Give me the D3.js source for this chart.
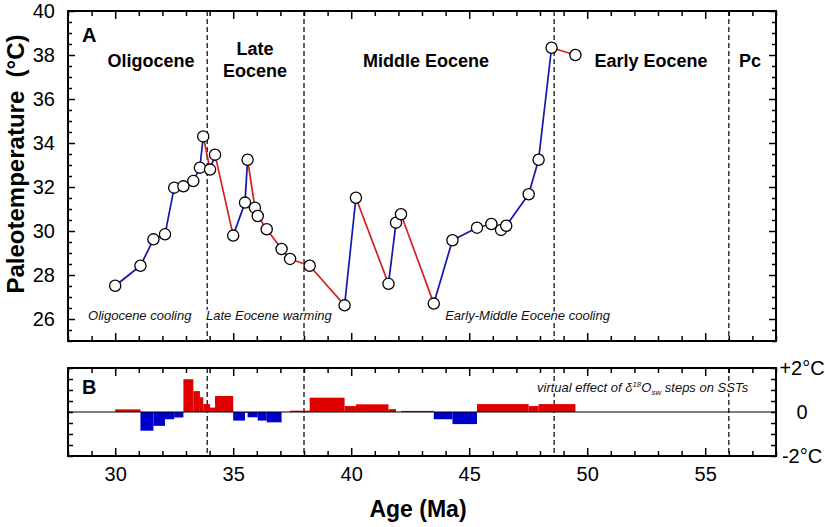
<!DOCTYPE html>
<html><head><meta charset="utf-8">
<script src="https://cdn.jsdelivr.net/npm/d3@7"></script>
<style>
html,body{margin:0;padding:0;background:#fff;}
svg{display:block;font-family:"Liberation Sans",Arial,Helvetica,sans-serif;}
</style></head>
<body><svg id="c" width="825" height="527"></svg>
<script>
// ---- data ----
const ages  = [30.0,31.07,31.62,32.11,32.50,32.89,33.31,33.59,33.73,34.02,34.23,35.0,35.5,35.61,35.92,36.04,36.42,37.05,37.41,38.24,39.72,40.20,41.58,41.90,42.11,43.50,44.29,45.33,45.94,46.35,46.57,47.52,47.94,48.49,49.50];
const temps = [27.51,28.42,29.62,29.85,31.97,32.03,32.27,32.88,34.30,32.79,33.47,29.79,31.29,33.24,31.06,30.68,30.08,29.18,28.73,28.42,26.62,31.51,27.60,30.38,30.76,26.70,29.58,30.15,30.32,30.05,30.24,31.67,33.24,38.33,38.00];
const stepEdges  = [30.0,31.07,31.62,32.11,32.50,32.89,33.31,33.59,33.73,34.02,34.23,35.0,35.5,35.61,36.04,36.42,37.05,37.41,38.24,39.72,40.20,41.58,41.90,42.11,43.50,44.29,45.33,47.52,47.94,49.50];
const stepValues = [0.12,-0.85,-0.63,-0.33,-0.25,1.49,0.95,0.67,0.36,0.20,0.73,-0.39,-0.04,-0.24,-0.39,-0.47,0,0.06,0.65,0.27,0.35,0.13,0,0.05,-0.33,-0.55,0.36,0.27,0.36];
const boundaries = [33.9,38.0,48.6,56.0];
const periodNames = ["Oligocene",["Late","Eocene"],"Middle Eocene","Early Eocene","Pc"];
const periodAges  = [31.52,35.92,43.17,52.7,56.9];
const trendNames = ["Oligocene cooling","Late Eocene warming","Early-Middle Eocene cooling"];
const trendAges  = [28.85,33.85,43.98];
const xMajor = [30,35,40,45,50,55];
const yMajorA = [26,28,30,32,34,36,38,40];
const yLabelsB = ["-2°C","0","+2°C"];
const yValuesB = [-2,0,2];

// ---- layout ----
const L=68,R=776,TA=11,BA=341,TB=368,BB=456;
const svg=d3.select("#c");
const x=d3.scaleLinear().domain([28,58]).range([L,R]);
const yA=d3.scaleLinear().domain([25,40]).range([BA,TA]);
const yB=d3.scaleLinear().domain([-2,2]).range([BB,TB]);
const RED="#d42020", BLUE="#1515b0", BRED="#e00000", BBLUE="#0000cc";

function styleAxis(g){g.select(".domain").remove();g.selectAll("line").attr("stroke","#000").attr("stroke-width",1.5);g.selectAll("text").attr("font-size",20).attr("fill","#000").attr("font-family","'Liberation Sans',Arial,sans-serif");}
const xMinor=d3.range(28,59,1).filter(v=>v%5!==0);

function frameTicks(top,bottom,yScale,yMaj,yMin,yMajLen,yMinLen){
  svg.append("g").attr("transform",`translate(0,${bottom})`).call(d3.axisBottom(x).tickValues(xMajor).tickSize(-8).tickFormat("")).call(styleAxis);
  svg.append("g").attr("transform",`translate(0,${bottom})`).call(d3.axisBottom(x).tickValues(xMinor).tickSize(-5).tickFormat("")).call(styleAxis);
  svg.append("g").attr("transform",`translate(0,${top})`).call(d3.axisTop(x).tickValues(xMajor).tickSize(-8).tickFormat("")).call(styleAxis);
  svg.append("g").attr("transform",`translate(0,${top})`).call(d3.axisTop(x).tickValues(xMinor).tickSize(-5).tickFormat("")).call(styleAxis);
  svg.append("g").attr("transform",`translate(${L},0)`).call(d3.axisLeft(yScale).tickValues(yMaj).tickSize(-yMajLen).tickFormat("")).call(styleAxis);
  svg.append("g").attr("transform",`translate(${L},0)`).call(d3.axisLeft(yScale).tickValues(yMin).tickSize(-yMinLen).tickFormat("")).call(styleAxis);
  svg.append("g").attr("transform",`translate(${R},0)`).call(d3.axisRight(yScale).tickValues(yMaj).tickSize(-yMajLen).tickFormat("")).call(styleAxis);
  svg.append("g").attr("transform",`translate(${R},0)`).call(d3.axisRight(yScale).tickValues(yMin).tickSize(-yMinLen).tickFormat("")).call(styleAxis);
}

// ---- panel A ----
svg.append("g").selectAll("line").data(boundaries).join("line")
  .attr("x1",d=>x(d)).attr("x2",d=>x(d)).attr("y1",TA).attr("y2",BA)
  .attr("stroke","#222").attr("stroke-width",1.4).attr("stroke-dasharray","5,3");
svg.append("g").selectAll("line").data(boundaries).join("line")
  .attr("x1",d=>x(d)).attr("x2",d=>x(d)).attr("y1",TB).attr("y2",BB)
  .attr("stroke","#222").attr("stroke-width",1.4).attr("stroke-dasharray","5,3");

frameTicks(TA,BA,yA,yMajorA,d3.range(25,40.01,0.5).filter(v=>v%2!==0),7,4);
svg.append("g").attr("transform",`translate(${L},0)`).call(d3.axisLeft(yA).tickValues(yMajorA).tickSize(0).tickPadding(13).tickFormat(d3.format("d"))).call(styleAxis);

const segs=d3.range(ages.length-1).map(i=>({x0:ages[i],y0:temps[i],x1:ages[i+1],y1:temps[i+1]}));
svg.append("g").selectAll("line").data(segs).join("line")
  .attr("x1",d=>x(d.x0)).attr("y1",d=>yA(d.y0)).attr("x2",d=>x(d.x1)).attr("y2",d=>yA(d.y1))
  .attr("stroke",d=>d.y1>=d.y0?BLUE:RED).attr("stroke-width",1.7);
svg.append("g").selectAll("circle").data(ages).join("circle")
  .attr("cx",d=>x(d)).attr("cy",(d,i)=>yA(temps[i])).attr("r",5.6)
  .attr("fill","#fff").attr("stroke","#000").attr("stroke-width",1.3);

svg.append("rect").attr("x",L).attr("y",TA).attr("width",R-L).attr("height",BA-TA).attr("fill","none").attr("stroke","#000").attr("stroke-width",2);

const pg=svg.append("g").attr("font-weight","bold").attr("font-size",18).attr("text-anchor","middle");
periodNames.forEach((n,i)=>{
  if(Array.isArray(n)){
    pg.append("text").attr("x",x(periodAges[i])).attr("y",55).text(n[0]);
    pg.append("text").attr("x",x(periodAges[i])).attr("y",77).text(n[1]);
  } else pg.append("text").attr("x",x(periodAges[i])).attr("y",67).text(n);
});
svg.append("g").selectAll("text").data(trendNames).join("text")
  .attr("x",(d,i)=>x(trendAges[i])).attr("y",320).attr("font-size",13).attr("font-style","italic")
  .attr("stroke","#fff").attr("stroke-width",3).attr("paint-order","stroke").attr("fill","#111").text(d=>d);
svg.append("text").attr("x",82).attr("y",42).attr("font-weight","bold").attr("font-size",20).text("A");

// ---- panel B ----
const bars=stepValues.map((v,i)=>({a:stepEdges[i],b:stepEdges[i+1],v}));
svg.append("g").selectAll("rect").data(bars).join("rect")
  .attr("x",d=>x(d.a)).attr("width",d=>x(d.b)-x(d.a))
  .attr("y",d=>yB(Math.max(0,d.v))).attr("height",d=>Math.abs(yB(d.v)-yB(0)))
  .attr("fill",d=>d.v>=0?BRED:BBLUE);
svg.append("line").attr("x1",L).attr("x2",R).attr("y1",yB(0)).attr("y2",yB(0)).attr("stroke","#000").attr("stroke-width",1.2);
frameTicks(TB,BB,yB,[-2,0,2],d3.range(-2,2.01,0.5).filter(v=>v%2!==0),5,5);
svg.append("rect").attr("x",L).attr("y",TB).attr("width",R-L).attr("height",BB-TB).attr("fill","none").attr("stroke","#000").attr("stroke-width",2);
svg.append("g").selectAll("text").data(yValuesB).join("text")
  .attr("x",802).attr("y",d=>yB(d)).attr("dy","0.36em").attr("text-anchor","middle").attr("font-size",20).text((d,i)=>yLabelsB[i]);
svg.append("g").attr("transform",`translate(0,${BB})`).call(d3.axisBottom(x).tickValues(xMajor).tickSize(0).tickPadding(11).tickFormat(d3.format("d"))).call(styleAxis);

svg.append("text").attr("x",82).attr("y",394).attr("font-weight","bold").attr("font-size",20).text("B");
const vt=svg.append("text").attr("x",537).attr("y",392).attr("font-size",13).attr("font-style","italic").attr("fill","#111")
  .attr("stroke","#fff").attr("stroke-width",3).attr("paint-order","stroke");
vt.append("tspan").text("virtual effect of δ");
vt.append("tspan").attr("font-size",8).attr("dy",-5).text("18");
vt.append("tspan").attr("dy",5).text("O");
vt.append("tspan").attr("font-size",8).attr("dy",3).text("sw");
vt.append("tspan").attr("dy",-3).text(" steps on SSTs");

svg.append("text").attr("transform","translate(24,164) rotate(-90)").attr("text-anchor","middle")
  .attr("font-weight","bold").attr("font-size",24).style("white-space","pre").text("Paleotemperature  (°C)");
svg.append("text").attr("x",418).attr("y",517).attr("text-anchor","middle").attr("font-weight","bold").attr("font-size",23).text("Age (Ma)");
</script></body></html>
